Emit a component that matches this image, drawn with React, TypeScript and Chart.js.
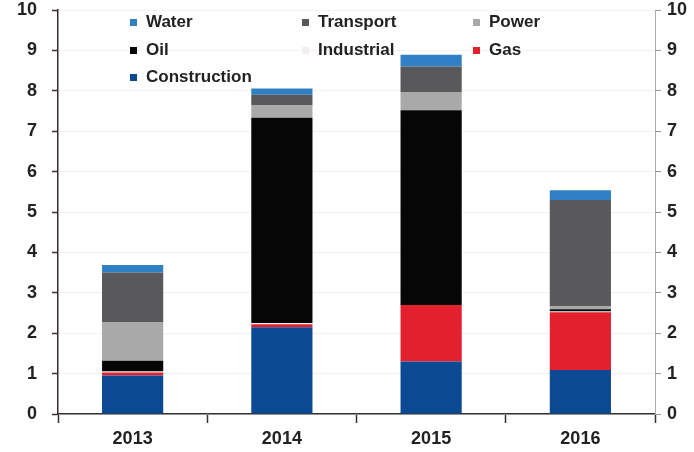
import React, { useEffect, useRef } from "react";
import { Chart, registerables } from "chart.js";

Chart.register(...registerables);

const categories = ["2013", "2014", "2015", "2016"];
const construction = [0.95, 2.15, 1.3, 1.09];
const gas = [0.08, 0.07, 1.4, 1.43];
const industrial = [0.02, 0.03, 0.0, 0.02];
const oil = [0.27, 5.08, 4.82, 0.05];
const power = [0.96, 0.32, 0.44, 0.07];
const transport = [1.22, 0.25, 0.64, 2.64];
const water = [0.19, 0.16, 0.29, 0.24];
const yTicks = [0, 1, 2, 3, 4, 5, 6, 7, 8, 9, 10];

const series = [
  { label: "Construction", data: construction, color: "#0b4a92" },
  { label: "Gas", data: gas, color: "#e3202d" },
  { label: "Industrial", data: industrial, color: "#f3eeee" },
  { label: "Oil", data: oil, color: "#060606" },
  { label: "Power", data: power, color: "#a9a9a9" },
  { label: "Transport", data: transport, color: "#59585b" },
  { label: "Water", data: water, color: "#2f80c5" },
];

const legendRows = [
  ["Water", "Transport", "Power"],
  ["Oil", "Industrial", "Gas"],
  ["Construction"],
];

const FONT = "'Liberation Sans', Arial, sans-serif";

export default function App() {
  const ref = useRef<HTMLCanvasElement | null>(null);

  useEffect(() => {
    if (!ref.current) return;
    const chart = new Chart(ref.current, {
      type: "bar",
      data: {
        labels: categories,
        datasets: series.map((s) => ({
          label: s.label,
          data: s.data,
          backgroundColor: s.color,
          borderWidth: 0,
          stack: "s",
          categoryPercentage: 1,
          barPercentage: 0.41,
        })),
      },
      options: {
        responsive: false,
        animation: false,
        layout: { padding: { top: 10, left: 0, right: 0, bottom: 0 } },
        plugins: { legend: { display: false }, tooltip: { enabled: false } },
        scales: {
          x: {
            stacked: true,
            offset: true,
            grid: {
              offset: true,
              drawOnChartArea: false,
              tickLength: 9,
              tickColor: "#333",
              tickWidth: 1.5,
            },
            border: { display: true, color: "#333", width: 1.5 },
            ticks: {
              color: "#222",
              font: { family: FONT, size: 18, weight: "bold" },
              padding: 5,
            },
            afterFit: (s: any) => {
              s.height = 38;
              s.paddingLeft = 0;
              s.paddingRight = 0;
            },
          },
          y: {
            stacked: true,
            position: "left",
            min: 0,
            max: 10,
            afterBuildTicks: (s: any) => {
              s.ticks = yTicks.map((v) => ({ value: v }));
            },
            grid: {
              color: "#f1f1f1",
              tickColor: "#333",
              tickLength: 6,
              tickWidth: 1.5,
            },
            border: { display: true, color: "#3a2a2a", width: 1.5 },
            ticks: {
              color: "#222",
              font: { family: FONT, size: 18, weight: "bold" },
              padding: 15,
            },
            afterFit: (s: any) => {
              s.width = 58;
              s.paddingTop = 0;
              s.paddingBottom = 0;
            },
          },
          y2: {
            position: "right",
            min: 0,
            max: 10,
            afterBuildTicks: (s: any) => {
              s.ticks = yTicks.map((v) => ({ value: v }));
            },
            grid: {
              drawOnChartArea: false,
              tickColor: "#999",
              tickLength: 6,
            },
            border: { display: true, color: "#aaa", width: 1 },
            ticks: {
              color: "#222",
              font: { family: FONT, size: 18, weight: "bold" },
              padding: 6,
            },
            afterFit: (s: any) => {
              s.width = 39;
              s.paddingTop = 0;
              s.paddingBottom = 0;
            },
          },
        },
      },
    });
    return () => chart.destroy();
  }, []);

  const colX = [130, 302, 473];
  const rowY = [22, 50, 77];
  const colorOf = (name: string) => series.find((s) => s.label === name)!.color;

  return (
    <div style={{ position: "fixed", left: 0, top: 0, width: 694, height: 452, background: "#fff" }}>
      <canvas ref={ref} width={694} height={452} style={{ display: "block" }} />
      {legendRows.map((row, ri) =>
        row.map((name, ci) => (
          <div
            key={name}
            style={{
              position: "absolute",
              left: colX[ci],
              top: rowY[ri] - 10,
              height: 20,
              display: "flex",
              alignItems: "center",
              fontFamily: FONT,
              fontSize: 17,
              fontWeight: "bold",
              color: "#222",
              whiteSpace: "nowrap",
            }}
          >
            <span
              style={{
                display: "inline-block",
                width: 7,
                height: 7,
                background: colorOf(name),
                marginRight: 9,
              }}
            />
            {name}
          </div>
        ))
      )}
    </div>
  );
}
